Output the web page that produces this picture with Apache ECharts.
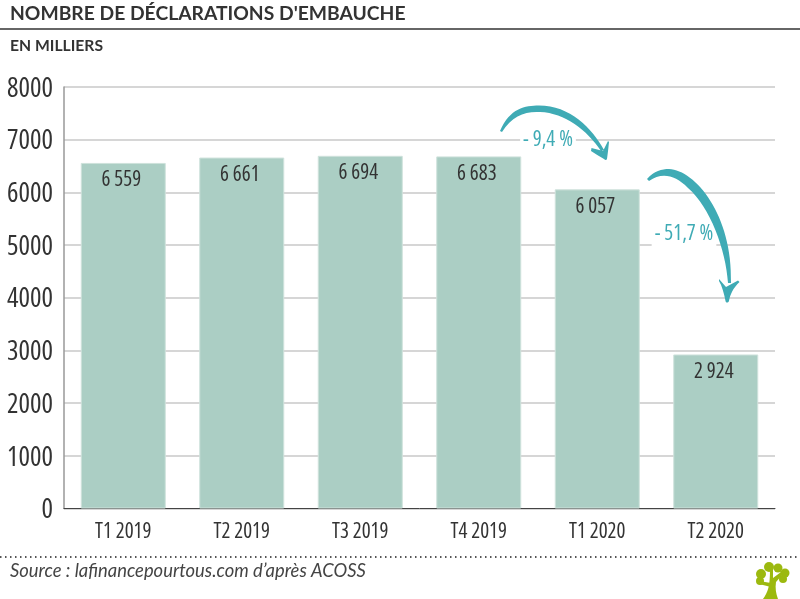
<!DOCTYPE html>
<html lang="fr">
<head>
<meta charset="utf-8">
<title>Nombre de déclarations d'embauche</title>
<script src="https://cdn.jsdelivr.net/npm/echarts@6/dist/echarts.min.js"></script>
<style>
  html, body { margin: 0; padding: 0; background: #fff; }
  #chart { width: 800px; height: 599px; }
</style>
</head>
<body>
<div id="chart"></div>
<script>
var categories = ['T1 2019', 'T2 2019', 'T3 2019', 'T4 2019', 'T1 2020', 'T2 2020'];
var values = [6559, 6661, 6694, 6683, 6057, 2924];
var titleText = "NOMBRE DE DÉCLARATIONS D'EMBAUCHE";
var unitText = 'EN MILLIERS';
var sourceText = 'Source : lafinancepourtous.com d’après ACOSS';

var narrow = '"Open Sans", sans-serif';
var teal = '#3fabb5';
var green = '#9cb90f';

// graphic has no plain path type, so the hand drawn shapes are registered
echarts.graphic.registerShape('arrowSmall', echarts.graphic.extendPath(
    'M500,131 C510,108 525,105.5 539,105.5 C570,105.5 592,128 604,150 L601,151 C587,130 565,113 540,112 C525,111 512,116 502,132 Z ' +
    'M591.5,148 L603,151 L608,141 L609,142 Q608,152 607,159 Q606,161 604,159 Q597,155 591,151 Z', {}));
echarts.graphic.registerShape('arrowBig', echarts.graphic.extendPath(
    'M647,179 C654,171 662,169 669,169 C695,170 733,215 731,283 L728,283 C726,250 710,207 688,188 C675,175 662,172 649,181 Z ' +
    'M719,279 L726,287 L738,280.5 L739.5,282 C733,288 730,295 729,301 C728,303 726,303 725.5,301 C724,293 722,286 719,281 Z', {}));
echarts.graphic.registerShape('treeTrunk', echarts.graphic.extendPath(
    'M763,599 C768,592 770,586 770,570 L773,570 L773,578 L781,572 L783,574 L776,582 C775,588 776,594 778,599 Z M759,581 L771,583 L771,587 L759,584 Z', {}));

// 6559 -> "6 559"
function spaced(v) {
    return String(v).replace(/\B(?=(\d{3})+$)/g, ' ');
}

function pctLabel(text, x, y) {
    return {
        type: 'text', x: x, y: y, z: 20,
        style: {
            text: text, fill: teal, font: 'condensed 21px ' + narrow,
            align: 'center', verticalAlign: 'middle',
            backgroundColor: '#fff', padding: [2, 3]
        }
    };
}

function blob(x, y, r) {
    return { type: 'circle', z: 21, shape: { cx: x, cy: y, r: r }, style: { fill: green } };
}

var chart = echarts.init(document.getElementById('chart'));
chart.setOption({
    animation: false,
    grid: { left: 64, right: 25, top: 87, bottom: 90.5, outerBoundsMode: 'none' },
    xAxis: {
        type: 'category',
        data: categories,
        axisTick: { show: false },
        axisLine: { lineStyle: { color: '#444', width: 1 } },
        axisLabel: { color: '#333', fontStyle: 'condensed', fontSize: 21, fontFamily: narrow, margin: 13 }
    },
    yAxis: {
        type: 'value',
        min: 0,
        max: 8000,
        interval: 1000,
        axisLine: { show: true, lineStyle: { color: '#999', width: 1.5 } },
        axisTick: { show: false },
        axisLabel: {
            margin: 11,
            formatter: function (v) { return '{n|' + v + '}'; },
            // rich padding pushes the digits a little below the grid line
            rich: {
                n: { color: '#333', fontStyle: 'condensed', fontSize: 27, fontFamily: narrow, padding: [4, 0, 0, 0] }
            }
        },
        splitLine: { lineStyle: { color: '#c9c9c9', width: 1.5 } }
    },
    series: [{
        type: 'bar',
        data: values,
        barWidth: 85,
        itemStyle: { color: '#abcec4', borderColor: '#cfe2dc', borderWidth: 1 },
        label: {
            show: true,
            position: 'insideTop',
            distance: 7,
            offset: [-2, 0],
            color: '#333',
            fontStyle: 'condensed',
            fontSize: 21,
            fontFamily: narrow,
            formatter: function (p) { return spaced(p.value); }
        }
    }],
    graphic: [
        { type: 'text', x: 10, y: 14, style: { text: titleText, fill: '#333', font: 'bold 19.3px Lato, sans-serif', verticalAlign: 'middle' } },
        { type: 'line', shape: { x1: 0, y1: 29, x2: 800, y2: 29 }, style: { stroke: '#666', lineWidth: 2 } },
        { type: 'text', x: 10, y: 46, style: { text: unitText, fill: '#333', font: 'bold 15.7px Lato, sans-serif', verticalAlign: 'middle' } },
        { type: 'line', shape: { x1: 0, y1: 557, x2: 800, y2: 557 }, style: { stroke: '#555', lineWidth: 2, lineDash: [1.5, 3.5] } },
        { type: 'text', x: 10, y: 571, style: { text: sourceText, fill: '#444', font: 'italic 18.4px Lato, sans-serif', verticalAlign: 'middle' } },

        pctLabel('- 9,4 %', 548, 140),
        pctLabel('- 51,7 %', 684, 234),

        { type: 'arrowSmall', z: 21, style: { fill: teal } },
        { type: 'arrowBig', z: 21, style: { fill: teal } },

        blob(769, 567, 5), blob(761, 574, 5), blob(760, 581, 4),
        blob(778, 568, 4.5), blob(785, 573, 4.5), blob(783, 579, 4),
        { type: 'treeTrunk', z: 21, style: { fill: green } }
    ]
});
</script>
</body>
</html>
